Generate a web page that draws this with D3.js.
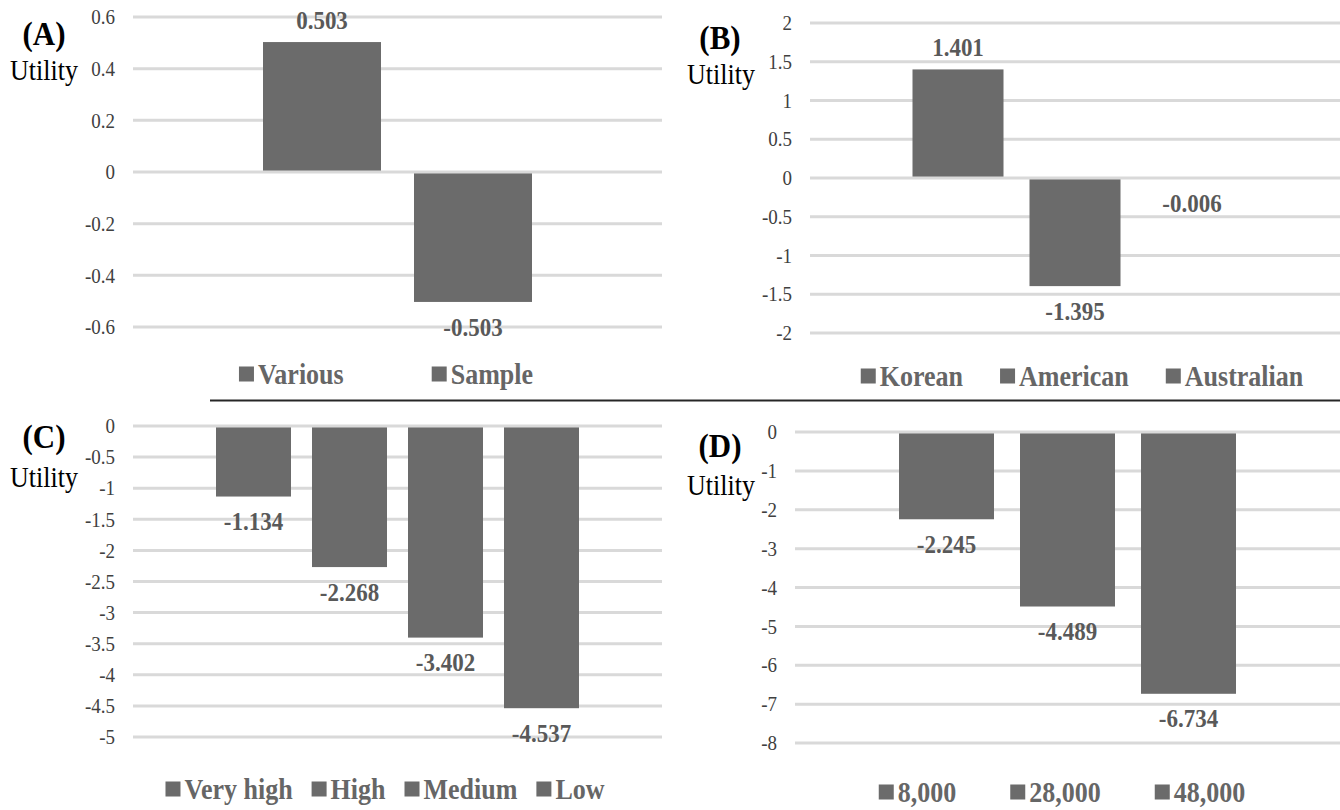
<!DOCTYPE html>
<html>
<head>
<meta charset="utf-8">
<script src="https://cdn.jsdelivr.net/npm/d3@7/dist/d3.min.js"></script>
</head>
<body style="margin:0;padding:0;background:#fff;">
<svg id="chart" width="1340" height="810" font-family="Liberation Serif" style="display:block;font-family:'Liberation Serif'"></svg>
<script>
// ---------------- DATA ----------------
const panelA_categories = ["Various", "Sample"];
const panelA_values = [0.503, -0.503];
const panelA_ticks = [0.6, 0.4, 0.2, 0, -0.2, -0.4, -0.6];

const panelB_categories = ["Korean", "American", "Australian"];
const panelB_values = [1.401, -1.395, -0.006];
const panelB_ticks = [2, 1.5, 1, 0.5, 0, -0.5, -1, -1.5, -2];

const panelC_categories = ["Very high", "High", "Medium", "Low"];
const panelC_values = [-1.134, -2.268, -3.402, -4.537];
const panelC_ticks = [0, -0.5, -1, -1.5, -2, -2.5, -3, -3.5, -4, -4.5, -5];

const panelD_categories = ["8,000", "28,000", "48,000"];
const panelD_values = [-2.245, -4.489, -6.734];
const panelD_ticks = [0, -1, -2, -3, -4, -5, -6, -7, -8];

const panelTitles = ["(A)", "(B)", "(C)", "(D)"];
const yAxisTitle = "Utility";

// ---------------- LAYOUT ----------------
const FONT = "Liberation Serif";
const BAR = "#6b6b6b", GRID = "#d9d9d9";
const VS = 1.1; // slight vertical stretch of the reference's text
const layouts = [
  { title: panelTitles[0], cats: panelA_categories, vals: panelA_values, ticks: panelA_ticks,
    x0: 133, x1: 662, yTop: 17, yBot: 327, bw: 118, gap: 33,
    titleX: 44, titleY: 45, utilX: 10, utilY: 80, legY: 374, legCx: 386, legGap: 88 },
  { title: panelTitles[1], cats: panelB_categories, vals: panelB_values, ticks: panelB_ticks,
    x0: 810, x1: 1340, yTop: 23, yBot: 333, bw: 91, gap: 26,
    titleX: 720, titleY: 49, utilX: 687, utilY: 84, legY: 376, legCx: 1082, legGap: 37 },
  { title: panelTitles[2], cats: panelC_categories, vals: panelC_values, ticks: panelC_ticks,
    x0: 133, x1: 662, yTop: 426, yBot: 737, bw: 75, gap: 21,
    titleX: 44, titleY: 448, utilX: 10, utilY: 487, legY: 789, legCx: 385, legGap: 19 },
  { title: panelTitles[3], cats: panelD_categories, vals: panelD_values, ticks: panelD_ticks,
    x0: 795, x1: 1340, yTop: 432, yBot: 743, bw: 95, gap: 26,
    titleX: 720, titleY: 457, utilX: 687, utilY: 495, legY: 792, legCx: 1062, legGap: 54 }
];

const svg = d3.select("#chart");

// separator line
svg.append("line")
  .attr("x1", 210).attr("x2", 1340).attr("y1", 400.5).attr("y2", 400.5)
  .attr("stroke", "#262626").attr("stroke-width", 2);

function txt(sel, size, weight) {
  return sel.attr("font-family", FONT).style("font-family", FONT)
    .attr("font-size", size).attr("font-weight", weight);
}

layouts.forEach(p => {
  const g = svg.append("g");
  const ext = d3.extent(p.ticks);
  const y = d3.scaleLinear().domain([ext[0], ext[1]]).range([p.yBot, p.yTop]);

  const n = p.cats.length;
  const cx = (p.x0 + p.x1) / 2;
  const groupW = n * p.bw + (n - 1) * p.gap;
  const x = d3.scaleBand().domain(p.cats)
    .range([cx - groupW / 2, cx + groupW / 2])
    .paddingInner(p.gap / (p.bw + p.gap)).paddingOuter(0);

  // gridlines (non-zero)
  g.selectAll("line.grid").data(p.ticks.filter(t => t !== 0)).join("line")
    .attr("class", "grid")
    .attr("x1", p.x0).attr("x2", p.x1)
    .attr("y1", d => y(d)).attr("y2", d => y(d))
    .attr("stroke", GRID).attr("stroke-width", 3);

  // y axis labels
  const axis = d3.axisLeft(y).tickValues(p.ticks).tickSize(0).tickPadding(0)
    .tickFormat(d => String(d));
  const ag = g.append("g").attr("transform", `translate(${p.x0 - 18},0)`).call(axis);
  ag.select(".domain").remove();
  ag.attr("font-family", FONT).attr("font-size", 19);
  txt(ag.selectAll("text"), 19, "normal").attr("fill", "#404040")
    .attr("transform", `scale(1,${VS})`);

  // bars
  const rows = p.cats.map((c, i) => ({ c, v: p.vals[i] }));
  g.selectAll("rect.bar").data(rows).join("rect")
    .attr("class", "bar")
    .attr("x", d => x(d.c)).attr("width", x.bandwidth())
    .attr("y", d => Math.min(y(0), y(d.v)))
    .attr("height", d => Math.abs(y(d.v) - y(0)))
    .attr("fill", BAR);

  // zero line on top
  g.append("line")
    .attr("x1", p.x0).attr("x2", p.x1)
    .attr("y1", y(0)).attr("y2", y(0))
    .attr("stroke", GRID).attr("stroke-width", 3);

  // data labels
  txt(g.selectAll("text.lbl").data(rows).join("text")
    .attr("class", "lbl")
    .attr("transform", d => `translate(${x(d.c) + x.bandwidth() / 2},${d.v >= 0 ? y(d.v) - 22 : y(d.v) + 25}) scale(1,${VS})`)
    .attr("dy", "0.34em")
    .attr("text-anchor", "middle"), 23, "bold")
    .attr("fill", "#595959")
    .text(d => d.v.toFixed(3));

  // panel title and y title
  txt(g.append("text")
    .attr("transform", `translate(${p.titleX},${p.titleY}) scale(1,${VS})`)
    .attr("text-anchor", "middle"), 31, "bold")
    .attr("fill", "#000").text(p.title);
  txt(g.append("text")
    .attr("transform", `translate(${p.utilX},${p.utilY}) scale(1,${VS})`), 26, "normal")
    .attr("fill", "#000").text(yAxisTitle);

  // legend
  const lg = g.append("g");
  const items = lg.selectAll("g.item").data(p.cats).join("g").attr("class", "item");
  items.append("rect").attr("width", 15).attr("height", 15)
    .attr("y", p.legY - 7.5).attr("fill", BAR);
  txt(items.append("text")
    .attr("transform", `translate(19,${p.legY}) scale(1,${VS})`)
    .attr("dy", "0.34em"), 26, "bold")
    .attr("fill", "#666")
    .text(d => d);
  let widths = [];
  items.each(function () {
    const t = d3.select(this).select("text").node();
    widths.push(19 + t.getComputedTextLength());
  });
  const total = d3.sum(widths) + p.legGap * (widths.length - 1);
  let cur = p.legCx - total / 2;
  items.each(function (d, i) {
    d3.select(this).attr("transform", `translate(${cur},0)`);
    cur += widths[i] + p.legGap;
  });
});
</script>
</body>
</html>
